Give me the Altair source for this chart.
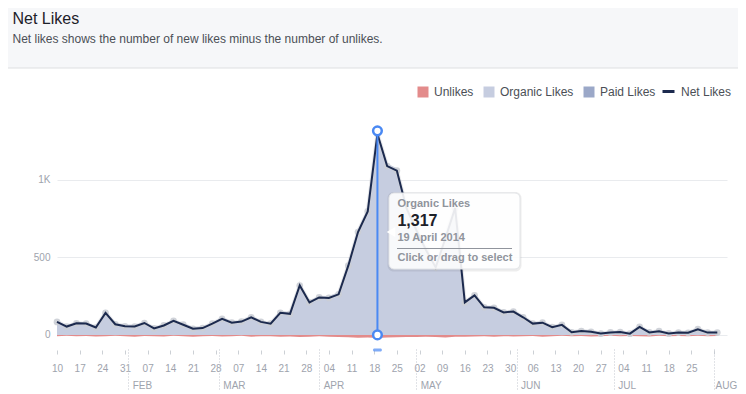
import json
import altair as alt
import pandas as pd

# ---------------- data ----------------
TITLE = "Net Likes"
SUBTITLE = "Net likes shows the number of new likes minus the number of unlikes."
HINT = "Click or drag to select"

start_date = "2014-01-10"
step = "3D"

organic = [92, 60, 84, 80, 58, 150, 75, 65, 65, 84,
           50, 71, 97, 75, 52, 52, 80, 114, 88, 92,
           125, 92, 82, 155, 146, 333, 221, 251, 251, 275,
           462, 682, 813, 1317, 1107, 1075, 830, 690, 560, 450,
           640, 830, 221, 265, 187, 187, 153, 161, 123, 80,
           90, 58, 71, 26, 32, 30, 17, 22, 28, 15,
           60, 26, 30, 19, 22, 22, 43, 24, 22]

unlikes = [8, 6, 9, 7, 10, 8, 6, 9, 11, 7,
           8, 10, 6, 9, 12, 8, 7, 10, 9, 6,
           11, 8, 9, 12, 10, 14, 11, 9, 12, 13,
           15, 18, 16, 20, 17, 15, 14, 13, 12, 14,
           16, 12, 11, 10, 9, 12, 8, 10, 9, 7,
           11, 8, 6, 9, 7, 10, 8, 6, 9, 7,
           8, 10, 6, 9, 7, 8, 6, 9, 7]

paid = [0] * len(organic)

dates = pd.date_range(start_date, periods=len(organic), freq=step).strftime("%Y-%m-%d").tolist()

week_ticks = pd.date_range("2014-01-10", "2014-08-01", freq="7D").strftime("%Y-%m-%d").tolist()
month_ticks = ["2014-02-01", "2014-03-01", "2014-04-01", "2014-05-01",
               "2014-06-01", "2014-07-01", "2014-08-01"]
x_range = ["2014-01-10", "2014-08-05"]
y_ticks = [0, 500, 1000]
y_range = [-65, 1400]

series_names = ["Unlikes", "Organic Likes", "Paid Likes"]
series_colors = ["#e38b8b", "#c6cde0", "#9ba8c8"]
net_name = "Net Likes"
net_color = "#1c2a4e"
sel_color = "#4a89f3"

# ---------------- tables ----------------
wide = pd.DataFrame({"date": dates, "organic": organic, "paid": paid, "unlikes": unlikes})
rows = []
for d, o, p, u in zip(dates, organic, paid, unlikes):
    rows.append({"date": d, "series": "Unlikes", "value": -u})
    rows.append({"date": d, "series": "Organic Likes", "value": o})
    rows.append({"date": d, "series": "Paid Likes", "value": p})
long = pd.DataFrame(rows)


def dt(s):
    t = pd.Timestamp(s)
    return alt.DateTime(year=t.year, month=t.month, date=t.day, utc=True)


W, H = 670, 227
PAD_L, PAD_T, PAD_R, PAD_B = 49, 110, 11, 45
FONT = "Liberation Sans"
GRAY = "#9ea3ad"

x_scale = alt.Scale(type="utc", domain=[dt(x_range[0]), dt(x_range[1])])
y_scale = alt.Scale(domain=y_range, nice=False, zero=False)

day_axis = alt.Axis(
    orient="bottom", values=[dt(s) for s in week_ticks],
    labelExpr="utcmonth(datum.value) == 7 ? '' : utcFormat(datum.value, '%d')",
    title=None, domain=False, grid=False, offset=5, tickSize=4, tickColor="#ccd0d5",
    labelColor=GRAY, labelFontSize=10, labelPadding=9, labelFlush=False, labelOverlap=False,
    labelFont=FONT)
month_axis = alt.Axis(
    orient="bottom", values=[dt(s) for s in month_ticks],
    labelExpr="upper(utcFormat(datum.value, '%b'))",
    title=None, domain=False, grid=False, offset=4, tickSize=42, tickDash=[1, 2],
    tickColor="#c3c7ce", labelAlign="left",
    labelOffset={"condition": {"test": "utcmonth(datum.value) == 7", "value": 1}, "value": 4},
    labelPadding=-11, labelBound=False,
    labelColor=GRAY, labelFontSize=10, labelFlush=False, labelOverlap=False, labelFont=FONT)
y_axis = alt.Axis(
    values=y_ticks, labelExpr="datum.value >= 1000 ? (datum.value / 1000) + 'K' : datum.label",
    title=None, domain=False, ticks=False, grid=True, gridColor="#e9ebee",
    labelColor=GRAY, labelFontSize=10, labelPadding=7, labelFont=FONT)


def Y(field):
    return alt.Y(field, scale=y_scale, axis=y_axis, title=None)


X = alt.X("date:T", scale=x_scale, axis=None)

# header band
one = alt.Data(values=[{"t": TITLE, "s": SUBTITLE}])
header_bg = alt.Chart(one).mark_rect(fill="#f6f7f9").encode(
    x=alt.value(-PAD_L), x2=alt.value(W + PAD_R), y=alt.value(-PAD_T), y2=alt.value(-50))
header_line = alt.Chart(one).mark_rect(fill="#dddfe2").encode(
    x=alt.value(-PAD_L), x2=alt.value(W + PAD_R), y=alt.value(-50.5), y2=alt.value(-49.5))
title = alt.Chart(one).mark_text(align="left", baseline="alphabetic", fontSize=16,
                                 color="#1d2129", font=FONT).encode(
    x=alt.value(-44.5), y=alt.value(-94.5), text="t:N")
subtitle = alt.Chart(one).mark_text(align="left", baseline="alphabetic", fontSize=12,
                                    color="#4b4f56", font=FONT).encode(
    x=alt.value(-44.5), y=alt.value(-75), text="s:N")

# stacked areas
area = alt.Chart(long).transform_calculate(
    ord=f"indexof({json.dumps(series_names)}, datum.series)"
).mark_area(interpolate="linear").encode(
    x=alt.X("date:T", scale=x_scale, axis=day_axis),
    y=alt.Y("value:Q", stack="zero", scale=y_scale, axis=y_axis, title=None),
    fill=alt.Fill("series:N", scale=alt.Scale(domain=series_names, range=series_colors),
                  legend=alt.Legend(orient="none", legendX=360, legendY=-32, direction="horizontal",
                                    title=None, symbolType="square", symbolSize=121,
                                    symbolStrokeWidth=0, labelFontSize=12, labelColor="#4b4f56",
                                    labelFont=FONT, columnPadding=9, labelOffset=5, padding=0)),
    order=alt.Order("ord:Q"),
)

net_base = alt.Chart(wide).transform_calculate(
    net="datum.organic + datum.paid - datum.unlikes", label=f"'{net_name}'")

halo_line = net_base.mark_line(color="#cfd2d8", strokeWidth=4, opacity=0.5).encode(
    x=X, y=Y("net:Q"))
halo = net_base.mark_point(filled=True, size=45, color="#cbced5", opacity=0.9).encode(
    x=alt.X("date:T", scale=x_scale, axis=month_axis), y=Y("net:Q"))
line = net_base.mark_line(strokeWidth=2).encode(
    x=X, y=Y("net:Q"),
    stroke=alt.Stroke("label:N", scale=alt.Scale(domain=[net_name], range=[net_color]),
                      legend=alt.Legend(orient="none", legendX=604, legendY=-34, title=None,
                                        symbolType="stroke", symbolSize=144, symbolStrokeWidth=3,
                                        labelFontSize=12, labelColor="#4b4f56", labelFont=FONT,
                                        labelOffset=5, padding=0)),
)

# selected point (the maximum)
peak = alt.Chart(wide).transform_joinaggregate(mx="max(organic)").transform_filter(
    "datum.organic == datum.mx").transform_calculate(
    vtxt="format(datum.organic, ',')",
    dtxt="utcFormat(datum.date, '%-d %B %Y')")

sel_rule = peak.mark_rule(color=sel_color, strokeWidth=2).encode(
    x=X, y=Y("organic:Q"), y2=alt.datum(0))
sel_top = peak.mark_circle(size=75, fill="white", stroke=sel_color, strokeWidth=2.5, opacity=1).encode(
    x=X, y=Y("organic:Q"))
sel_bot = peak.mark_circle(size=75, fill="white", stroke=sel_color, strokeWidth=2.5, opacity=1).encode(
    x=X, y=alt.datum(0))
sel_handle = peak.mark_tick(orient="horizontal", color=sel_color, thickness=3, size=9,
                            cornerRadius=1.5).encode(x=X, y=alt.value(232))

# tooltip
tip_shadow = peak.mark_rect(cornerRadius=6, fill="#000000", opacity=0.07).encode(
    x=alt.value(330.5), x2=alt.value(464.5), y=alt.value(74), y2=alt.value(153.5))
tip_box = peak.mark_rect(cornerRadius=5, fill="white", fillOpacity=0.9, stroke="#e3e5e8",
                         strokeWidth=1).encode(
    x=alt.value(332), x2=alt.value(463), y=alt.value(75), y2=alt.value(151))
tip_arrow = peak.mark_point(shape="triangle-left", filled=True, fill="white", opacity=1,
                            size=100, strokeWidth=0).encode(x=alt.value(334), y=alt.value(114))
tip_series = peak.mark_text(text=series_names[1], align="left", baseline="alphabetic",
                            fontSize=11, fontWeight="bold", color="#90949c", font=FONT, dx=20).encode(
    x=X, y=alt.value(89))
tip_value = peak.mark_text(align="left", baseline="alphabetic", fontSize=16, fontWeight="bold",
                           color="#1d2129", font=FONT, dx=20).encode(
    x=X, y=alt.value(108), text="vtxt:N")
tip_date = peak.mark_text(align="left", baseline="alphabetic", fontSize=11, fontWeight="bold",
                          color="#90949c", font=FONT, dx=20).encode(
    x=X, y=alt.value(123), text="dtxt:N")
tip_sep = peak.mark_rect(fill="#90949c").encode(
    x=alt.value(340), x2=alt.value(455), y=alt.value(130), y2=alt.value(131))
tip_hint = peak.mark_text(text=HINT, align="left", baseline="alphabetic", fontSize=11,
                          fontWeight="bold", color="#90949c", font=FONT, dx=20).encode(
    x=X, y=alt.value(142.5))

chart = alt.layer(
    header_bg, header_line, title, subtitle,
    area, halo_line, halo, line,
    sel_rule, sel_top, sel_bot, sel_handle,
    tip_shadow, tip_box, tip_arrow, tip_series, tip_value, tip_date, tip_sep, tip_hint,
).resolve_axis(x="independent").properties(
    width=W, height=H,
    padding={"left": PAD_L, "top": PAD_T, "right": PAD_R, "bottom": PAD_B},
    autosize=alt.AutoSizeParams(type="none"),
).configure(font=FONT, background="white").configure_view(
    stroke=None, strokeWidth=0).configure_axis(domain=False)

chart.save("out.html", embed_options={"renderer": "svg", "actions": False})
